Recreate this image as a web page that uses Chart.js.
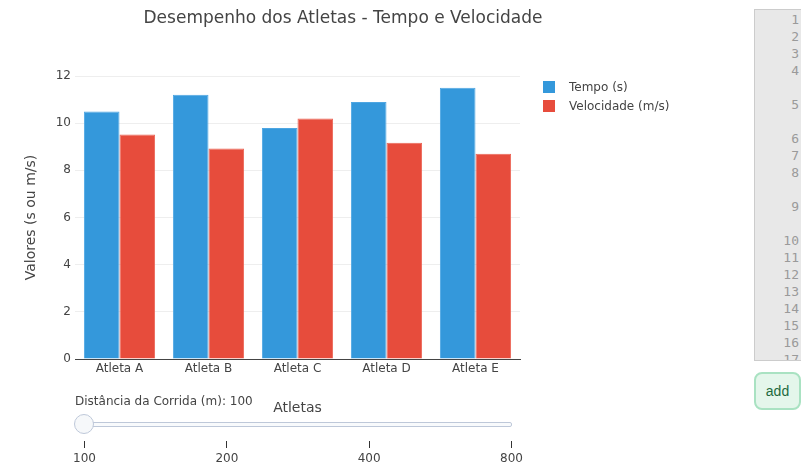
<!DOCTYPE html>
<html lang="pt">
<head>
<meta charset="UTF-8" />
<title>Desempenho dos Atletas</title>
<style>
  * {margin:0; padding:0; box-sizing:border-box;}
  body {
    width: 801px; height: 472px; overflow: hidden; position: relative;
    background: #fff; color: #444;
    font-family: 'DejaVu Sans', Verdana, sans-serif;
  }
  #chartBox {position: absolute; left: 0; top: 0;}
  /* slider */
  .slider-label {position: absolute; left: 75px; top: 394px; font-size: 12px; white-space: nowrap;}
  .rail {position: absolute; left: 75px; top: 422px; width: 437px; height: 5px; background: #f8fafc; border: 1px solid #bec8d9; border-radius: 2px;}
  .grip {position: absolute; left: 74px; top: 414px; width: 20px; height: 20px; border-radius: 10px; background: #f6f8fa; border: 1px solid #bec8d9;}
  .tick {position: absolute; top: 441px; width: 1px; height: 7px; background: #333;}
  .tick-label {position: absolute; top: 451px; width: 60px; margin-left: -30px; text-align: center; font-size: 12px;}
  /* editor panel on the right */
  .editor {
    position: absolute; left: 754px; top: 9px; width: 60px; height: 352px;
    background: #e8e8e8; border: 1px solid #ccc; overflow: hidden;
    font-family: 'DejaVu Sans Mono', monospace; font-size: 13px; color: #9a9a9a;
  }
  .gutter {position: absolute; left: 0; top: 1px; width: 44px; text-align: right; line-height: 17px;}
  .gutter div {height: 17px;}
  .gutter div.w2 {height: 34px;}
  .add-btn {
    position: absolute; left: 754px; top: 372px; width: 47px; height: 38px;
    border: 2px solid #a9e2c2; border-radius: 8px; background: #e4f6eb;
    color: #1e6b3f; font: 14px 'Liberation Sans', Arial, sans-serif;
  }
</style>
</head>
<body>

<div id="chartBox"><canvas id="athleteChart" width="686" height="420"></canvas></div>

<div class="slider-label" id="sliderLabel">Distância da Corrida (m): 100</div>
<div class="rail"></div>
<div id="sliderTicks"></div>
<div class="grip"></div>

<div class="editor">
  <div class="gutter">
    <div>1</div><div>2</div><div>3</div><div class="w2">4</div><div class="w2">5</div>
    <div>6</div><div>7</div><div class="w2">8</div><div class="w2">9</div><div>10</div>
    <div>11</div><div>12</div><div>13</div><div>14</div><div>15</div><div>16</div><div>17</div>
  </div>
</div>
<button class="add-btn">add</button>

<script src="https://cdn.jsdelivr.net/npm/chart.js"></script>
<script>
  const athletes = ['Atleta A', 'Atleta B', 'Atleta C', 'Atleta D', 'Atleta E'];
  const timeValues = [10.5, 11.2, 9.8, 10.9, 11.5];
  const speedValues = [9.52, 8.93, 10.2, 9.17, 8.7];
  const yTicks = [0, 2, 4, 6, 8, 10, 12];
  const distances = [100, 200, 400, 800];

  // slider ticks
  const ticksEl = document.getElementById('sliderTicks');
  distances.forEach((d, i) => {
    const x = 84 + i * (511 - 84) / (distances.length - 1);
    ticksEl.insertAdjacentHTML('beforeend',
      `<div class="tick" style="left:${x}px"></div><div class="tick-label" style="left:${x + 0.5}px">${d}</div>`);
  });

  // legend drawn to the right of the plot, plotly-style
  const sideLegend = {
    id: 'sideLegend',
    afterDraw(chart) {
      const {ctx, chartArea} = chart;
      ctx.save();
      chart.data.datasets.forEach((ds, i) => {
        const x = chartArea.right + 23;
        const y = chartArea.top + 5 + i * 19;
        ctx.fillStyle = ds.backgroundColor;
        ctx.fillRect(x, y, 12, 12);
        ctx.fillStyle = '#444';
        ctx.font = "12px 'DejaVu Sans'";
        ctx.textBaseline = 'middle';
        ctx.fillText(ds.label, x + 26, y + 6.5);
      });
      ctx.restore();
    }
  };

  const font = {family: "'DejaVu Sans', Verdana, sans-serif"};

  new Chart(document.getElementById('athleteChart'), {
    type: 'bar',
    data: {
      labels: athletes,
      datasets: [
        {label: 'Tempo (s)', data: timeValues, backgroundColor: '#3498db', borderColor: '#4ea6e2', borderWidth: 1, borderSkipped: 'bottom'},
        {label: 'Velocidade (m/s)', data: speedValues, backgroundColor: '#e74c3c', borderColor: '#ec6556', borderWidth: 1, borderSkipped: 'bottom'}
      ]
    },
    options: {
      responsive: false,
      animation: false,
      categoryPercentage: 0.8,
      barPercentage: 1.0,
      layout: {padding: {left: 22.6, right: 22.6, top: 0, bottom: 3.6}},
      plugins: {
        legend: {display: false},
        tooltip: {enabled: false},
        title: {
          display: true,
          text: 'Desempenho dos Atletas - Tempo e Velocidade',
          color: '#444',
          font: {...font, size: 17, weight: 'normal'},
          padding: {top: 8, bottom: 47.6}
        }
      },
      scales: {
        x: {
          grid: {display: false, drawTicks: false},
          border: {display: true, color: '#444', width: 1},
          ticks: {color: '#444', font: {...font, size: 12}, padding: 3, maxRotation: 0},
          title: {display: true, text: 'Atletas', color: '#444', font: {...font, size: 14}, padding: 0},
          afterFit: s => { s.height = 57.4; }
        },
        y: {
          min: 0, max: 12,
          afterBuildTicks: s => { s.ticks = yTicks.map(v => ({value: v})); },
          grid: {color: '#eeeeee', drawTicks: false},
          border: {display: false},
          ticks: {color: '#444', font: {...font, size: 12}, padding: 4},
          title: {display: true, text: 'Valores (s ou m/s)', color: '#444', font: {...font, size: 14}, padding: 0},
          afterFit: s => { s.width = 52.4; }
        },
        // empty right-hand axis that reserves room for the legend
        legendSpace: {
          position: 'right',
          grid: {display: false},
          border: {display: false},
          ticks: {display: false},
          afterFit: s => { s.width = 143.4; }
        }
      }
    },
    plugins: [sideLegend]
  });
</script>
</body>
</html>
